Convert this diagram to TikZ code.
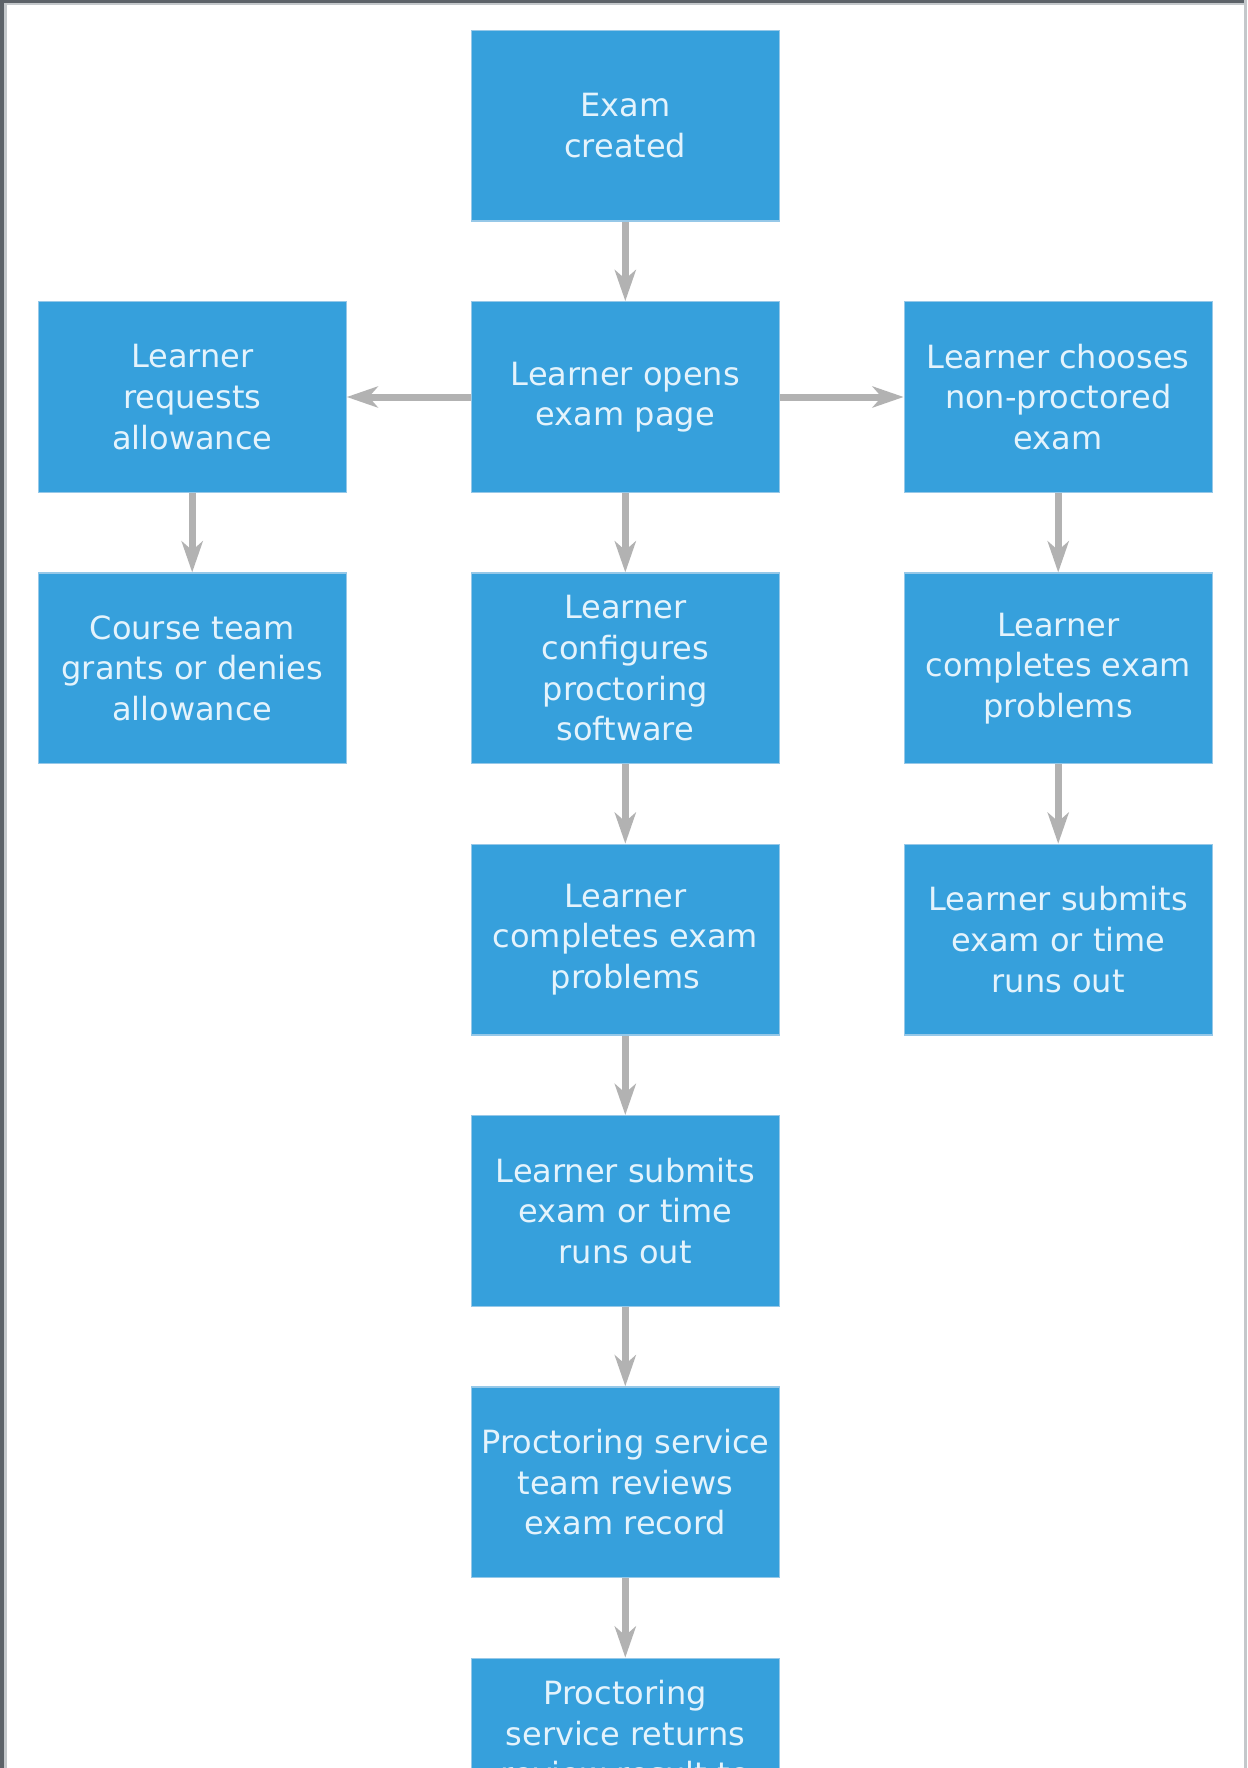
\documentclass[tikz,border=0pt]{standalone}
\usepackage{fontspec}
\setmainfont{DejaVu Sans}
\usetikzlibrary{arrows.meta}
\definecolor{boxfill}{RGB}{54,160,220}
\definecolor{boxedge}{RGB}{150,200,232}
\definecolor{boxtext}{RGB}{228,243,252}
\definecolor{flow}{RGB}{178,178,178}
\definecolor{framedark}{RGB}{92,98,104}
\definecolor{framelight}{RGB}{196,200,203}
\tikzset{
  stepbox/.style={rectangle, fill=boxfill, draw=boxedge, line width=1.2pt,
    minimum width=308pt, minimum height=190.6pt, inner sep=0pt, align=center,
    text=boxtext, font=\fontsize{32}{40.6}\selectfont},
  flowarrow/.style={draw=flow, line width=7pt,
    -{Stealth[length=31pt, width=21pt, inset=9pt]}}
}
\begin{document}
\begin{tikzpicture}[x=1pt, y=-1pt]
  \useasboundingbox (0,0) rectangle (1247,1768);
  \clip (0,0) rectangle (1247,1768);
  \fill[white] (0,0) rectangle (1247,1768);

  % page frame
  \fill[framedark] (0,0) rectangle (4,1768);
  \fill[framedark] (0,0) rectangle (1247,3.5);
  \fill[framelight] (4,3.5) rectangle (6.5,1768);
  \fill[framelight] (4,3.5) rectangle (1244,5.5);
  \fill[framelight] (1244,0) rectangle (1247,1768);

  % process steps
  \node[stepbox] (created)   at (625.3,125.7)  {Exam\\created};
  \node[stepbox] (opens)     at (625.3,397.0)  {Learner opens\\exam page};
  \node[stepbox] (requests)  at (192.2,397.0)  {Learner\\requests\\allowance};
  \node[stepbox] (chooses)   at (1058.2,397.0) {Learner chooses\\non-proctored\\exam};
  \node[stepbox] (grants)    at (192.2,668.3)  {Course team\\grants or denies\\allowance};
  \node[stepbox] (configures) at (625.3,668.3) {Learner\\configures\\proctoring\\software};
  \node[stepbox] (npcomplete) at (1058.2,668.3) {Learner\\completes exam\\problems};
  \node[stepbox] (complete)  at (625.3,939.6)  {Learner\\completes exam\\problems};
  \node[stepbox] (npsubmit)  at (1058.2,939.6) {Learner submits\\exam or time\\runs out};
  \node[stepbox] (submit)    at (625.3,1210.9) {Learner submits\\exam or time\\runs out};
  \node[stepbox] (reviews)   at (625.3,1482.2) {Proctoring service\\team reviews\\exam record};
  \node[stepbox] (returns)   at (625.3,1753.5) {Proctoring\\service returns\\review result to\\\mbox{}};

  % flow between steps
  \draw[flowarrow] (created) -- (opens);
  \draw[flowarrow] (opens) -- (requests);
  \draw[flowarrow] (opens) -- (chooses);
  \draw[flowarrow] (requests) -- (grants);
  \draw[flowarrow] (opens) -- (configures);
  \draw[flowarrow] (chooses) -- (npcomplete);
  \draw[flowarrow] (configures) -- (complete);
  \draw[flowarrow] (npcomplete) -- (npsubmit);
  \draw[flowarrow] (complete) -- (submit);
  \draw[flowarrow] (submit) -- (reviews);
  \draw[flowarrow] (reviews) -- (returns);
\end{tikzpicture}
\end{document}
